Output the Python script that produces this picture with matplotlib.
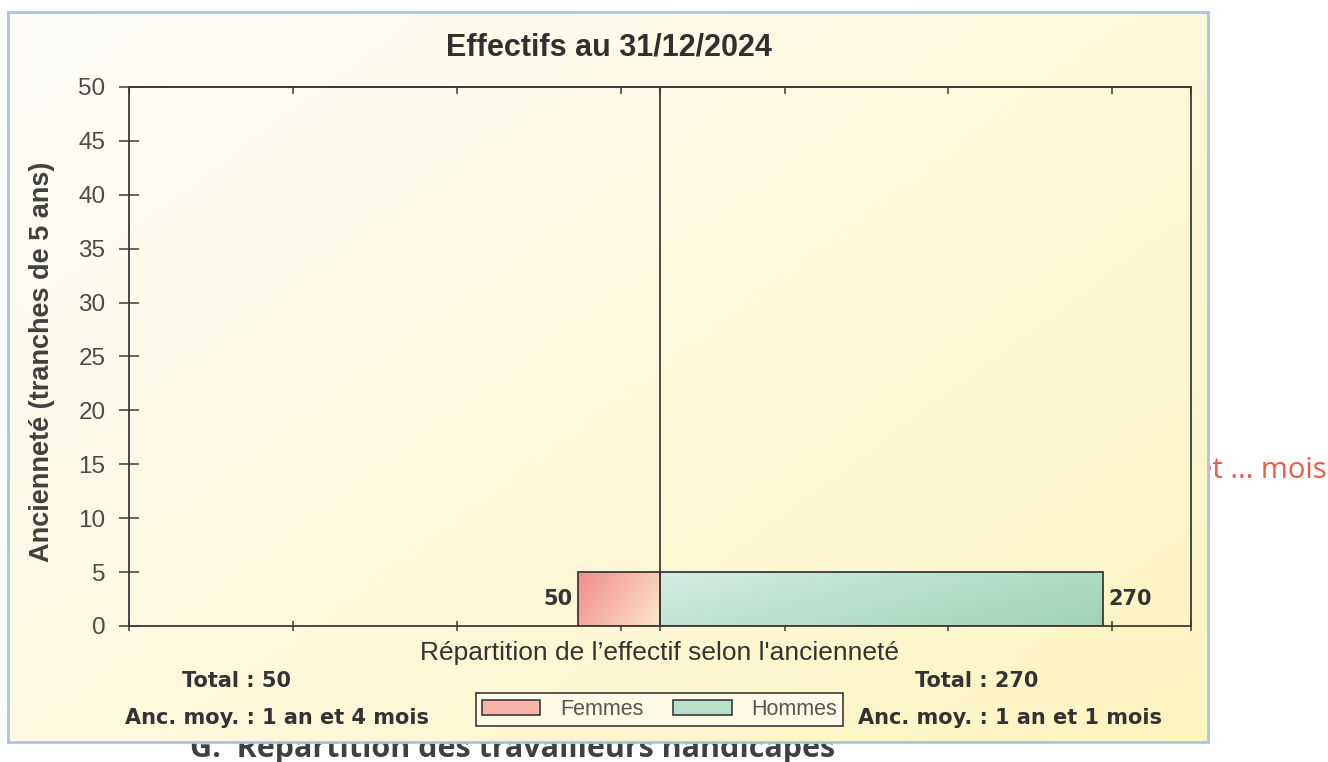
import numpy as np
import matplotlib
matplotlib.use("Agg")
import matplotlib.pyplot as plt
from matplotlib.patches import Patch

# données
tranche_bas = [0]          # début de la tranche d'ancienneté (années)
tranche_pas = 5
femmes = [50]
hommes = [270]
anc_moy_femmes = "1 an et 4 mois"
anc_moy_hommes = "1 an et 1 mois"
y_ticks = list(range(0, 51, 5))

W, H = 1328, 762


def fx(x):
    return x / W


def fy(y):
    return 1 - y / H


def gradient(c0, c1, n=200, diag=0.5):
    # dégradé diagonal entre deux couleurs
    xx, yy = np.meshgrid(np.linspace(0, 1, n), np.linspace(0, 1, n))
    t = np.clip((1 - diag) * xx + diag * yy, 0, 1)[..., None]
    c0 = np.array(matplotlib.colors.to_rgb(c0))
    c1 = np.array(matplotlib.colors.to_rgb(c1))
    return c0 * (1 - t) + c1 * t


fig = plt.figure(figsize=(W / 100, H / 100), dpi=100)

# texte de la page, en partie caché par l'image du graphique
fig.text(fx(190), fy(757), "G.  Répartition des travailleurs handicapés",
         family="Open Sans", fontweight="bold", fontsize=22, color="#404040",
         va="baseline", ha="left", zorder=-2)
fig.text(fx(1326), fy(470), "et ... mois", family="Open Sans", fontsize=21,
         color="#f0584a", va="center", ha="right", zorder=-2)

# fond du graphique
bg = fig.add_axes([fx(8), fy(742), (1208 - 8) / W, (742 - 12) / H], zorder=-1)
bg.imshow(gradient("#fefdfa", "#fff4c0", diag=0.45)[::-1], extent=[0, 1, 0, 1],
          aspect="auto", origin="lower")
bg.set_xticks([])
bg.set_yticks([])
for s in bg.spines.values():
    s.set_color("#a9c6de")
    s.set_linewidth(2)

ax = fig.add_axes([fx(129), fy(626), (1191 - 129) / W, (626 - 87) / H])
ax.patch.set_alpha(0)

x_max = 1.2 * max(hommes)
edge = "#3a3a3a"

bars_f = ax.barh(tranche_bas, [-v for v in femmes], height=tranche_pas, align="edge",
                 color="none", edgecolor=edge, linewidth=1.3, zorder=3)
bars_h = ax.barh(tranche_bas, hommes, height=tranche_pas, align="edge",
                 color="none", edgecolor=edge, linewidth=1.3, zorder=3)

for bars, c0, c1 in [(bars_f, "#f08c8e", "#fde6c8"), (bars_h, "#d3ece2", "#9ed3b6")]:
    for b in bars:
        x0, y0 = b.get_x(), b.get_y()
        x1, y1 = x0 + b.get_width(), y0 + b.get_height()
        im = ax.imshow(gradient(c0, c1, diag=0.3), extent=[min(x0, x1), max(x0, x1), y0, y1],
                       aspect="auto", origin="upper", zorder=2)
        im.set_clip_path(b)

for y, v in zip(tranche_bas, femmes):
    ax.annotate(str(v), xy=(-v, y + tranche_pas / 2), xytext=(-4, 0), textcoords="offset points",
                ha="right", va="center", family="DejaVu Sans", fontweight="bold",
                fontsize=15, color="#333333")
for y, v in zip(tranche_bas, hommes):
    ax.annotate(str(v), xy=(v, y + tranche_pas / 2), xytext=(4, 0), textcoords="offset points",
                ha="left", va="center", family="DejaVu Sans", fontweight="bold",
                fontsize=15, color="#333333")

ax.axvline(0, color=edge, linewidth=1.3, zorder=4)

ax.set_xlim(-x_max, x_max)
ax.set_ylim(0, max(y_ticks))
x_ticks = list(np.arange(-x_max, x_max, 100)) + [0, x_max]
ax.set_xticks(x_ticks)
ax.set_xticklabels([])
ax.set_yticks(y_ticks)
ax.set_yticklabels([str(t) for t in y_ticks], family="Liberation Sans", fontsize=17.5,
                   color="#4a4a4a")
ax.tick_params(axis="y", direction="inout", length=14, width=1.1, color=edge, pad=10)
ax.tick_params(axis="x", direction="inout", length=7, width=1.1, color=edge)
for s in ax.spines.values():
    s.set_color(edge)
    s.set_linewidth(1.3)

top = ax.secondary_xaxis("top")
top.set_xticks(x_ticks)
top.set_xticklabels([])
top.tick_params(direction="in", length=5, width=1.1, color=edge)
top.spines["top"].set_color(edge)
top.spines["top"].set_linewidth(1.3)

ax.set_ylabel("Ancienneté (tranches de 5 ans)", family="Liberation Sans", fontweight="bold",
              fontsize=19.5, color="#404040")
ax.yaxis.set_label_coords(-0.07, 0.49)
ax.set_xlabel("Répartition de l’effectif selon l'ancienneté", family="Liberation Sans",
              fontsize=19, color="#333333")
ax.xaxis.set_label_coords(0.5, -0.028)

fig.text(fx(609), fy(48), "Effectifs au 31/12/2024", family="Liberation Sans",
         fontweight="bold", fontsize=22, color="#303030", ha="center", va="center")

# totaux et ancienneté moyenne
txt = dict(family="DejaVu Sans", fontweight="bold", fontsize=15, color="#333333",
           va="center", ha="left")
fig.text(fx(182), fy(681), f"Total : {sum(femmes)}", **txt)
fig.text(fx(125), fy(718), f"Anc. moy. : {anc_moy_femmes}", **txt)
fig.text(fx(915), fy(681), f"Total : {sum(hommes)}", **txt)
fig.text(fx(858), fy(718), f"Anc. moy. : {anc_moy_hommes}", **txt)

handles = [Patch(facecolor="#f6b4aa", edgecolor=edge, linewidth=1.2),
           Patch(facecolor="#b9dfcb", edgecolor=edge, linewidth=1.2)]
leg = fig.legend(handles, ["Femmes", "Hommes"], loc="center",
                 bbox_to_anchor=(fx(659.5), fy(709.5)), ncol=2, fancybox=False,
                 facecolor="#fffbe6", edgecolor=edge, framealpha=1,
                 prop={"family": "Liberation Sans", "size": 15.5},
                 handlelength=2.7, handleheight=0.75, handletextpad=0.9,
                 columnspacing=1.4, borderpad=0.3, borderaxespad=0)
leg.get_frame().set_linewidth(1.2)
for t in leg.get_texts():
    t.set_color("#555555")

fig.savefig("out.png", dpi=100)
